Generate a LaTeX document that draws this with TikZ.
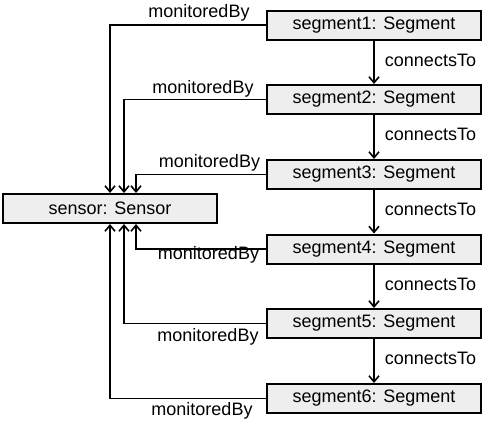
\documentclass[tikz,border=0pt]{standalone}
\usepackage{fontspec}
\setmainfont{Liberation Sans}
\usetikzlibrary{arrows.meta}
\definecolor{boxfill}{HTML}{EEEEEE}
\tikzset{
  obj/.style={draw=black, line width=2pt, fill=boxfill, minimum width=214pt, minimum height=29pt, inner sep=0pt, font=\fontsize{18}{20}\selectfont},
  lbl/.style={inner sep=0pt, font=\fontsize{18}{20}\selectfont},
  conn/.style={line width=1.6pt, -{Straight Barb[length=6pt,width=10pt]}}
}
\begin{document}
\begin{tikzpicture}[x=1pt,y=-1pt]
\useasboundingbox (0,0) rectangle (485,429);
\node[obj] (sensor) at (110,208.5) {sensor: Sensor};
\node[obj] (s1) at (374,25) {segment1: Segment};
\node[obj] (s2) at (374,99.5) {segment2: Segment};
\node[obj] (s3) at (374,174.5) {segment3: Segment};
\node[obj] (s4) at (374,249) {segment4: Segment};
\node[obj] (s5) at (374,323.5) {segment5: Segment};
\node[obj] (s6) at (374,398.5) {segment6: Segment};
% connectsTo
\draw[conn] (s1) -- (s2);
\draw[conn] (s2) -- (s3);
\draw[conn] (s3) -- (s4);
\draw[conn] (s4) -- (s5);
\draw[conn] (s5) -- (s6);
\node[lbl] (c1) at (430.5,60) {connectsTo};
\node[lbl] (c2) at (430.5,134.5) {connectsTo};
\node[lbl] (c3) at (430.5,209) {connectsTo};
\node[lbl] (c4) at (430.5,284) {connectsTo};
\node[lbl] (c5) at (430.5,358) {connectsTo};
% monitoredBy
\draw[conn] (s1.west) -| (sensor.north);
\draw[conn] (s2.west) -| ([xshift=14pt]sensor.north);
\draw[conn] (s3.west) -| ([xshift=26pt]sensor.north);
\draw[conn] (s4.west) -| ([xshift=26pt]sensor.south);
\draw[conn] (s5.west) -| ([xshift=14pt]sensor.south);
\draw[conn] (s6.west) -| (sensor.south);
\node[lbl] (m1) at (199,13.3) {monitoredBy};
\node[lbl] (m2) at (203,88.5) {monitoredBy};
\node[lbl] (m3) at (209.5,163.3) {monitoredBy};
\node[lbl] (m4) at (208.5,255) {monitoredBy};
\node[lbl] (m5) at (208,337) {monitoredBy};
\node[lbl] (m6) at (202,410.5) {monitoredBy};
\end{tikzpicture}
\end{document}
